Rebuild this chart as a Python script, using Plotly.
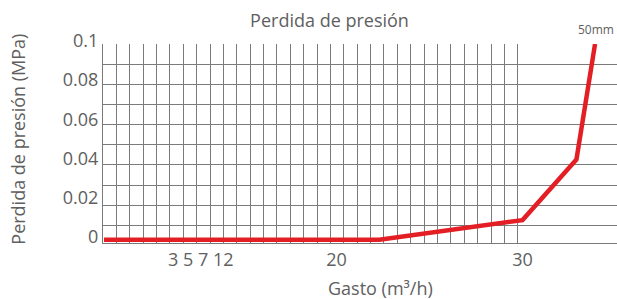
import plotly.graph_objects as go

# Data
gasto = [7.5, 22.3, 30.0, 32.9, 33.9]          # m³/h
perdida = [0.0, 0.0, 0.010, 0.041, 0.100]      # MPa
series_name = "50mm"

x_tick_vals = [12.7, 20, 30]
x_tick_text = ["3 5 7 12", "20", "30"]
y_tick_vals = [0, 0.02, 0.04, 0.06, 0.08, 0.1]
y_tick_text = ["0", "0.02", "0.04", "0.06", "0.08", "0.1"]

grid_cols = 31   # vertical grid cells
grid_rows = 10   # horizontal grid cells

W, H = 617, 299
ML, MR, MT, MB = 103, 0, 44, 56
font = "Open Sans, Noto Sans, sans-serif"
txt = "#606060"
gridc = "#7a7a7a"

fig = go.Figure()
fig.add_trace(go.Scatter(
    x=gasto, y=perdida, mode="lines", name=series_name,
    line=dict(color="#e31e24", width=4.5), showlegend=False,
))
# invisible traces carrying the grid axes
fig.add_trace(go.Scatter(x=[None], y=[None], xaxis="x2", yaxis="y",
                         showlegend=False, hoverinfo="skip"))
fig.add_trace(go.Scatter(x=[None], y=[None], xaxis="x", yaxis="y2",
                         showlegend=False, hoverinfo="skip"))

fig.update_layout(
    width=W, height=H,
    margin=dict(l=ML, r=MR, t=MT, b=MB),
    paper_bgcolor="white", plot_bgcolor="white",
    font=dict(family=font, size=18, color=txt),
    title=dict(text="Perdida de presión", x=329.5 / W, xanchor="center",
               xref="container", y=1 - 21 / H, yanchor="middle",
               font=dict(size=18, color=txt)),
    xaxis=dict(range=[7.445, 35.08], tickvals=x_tick_vals, ticktext=x_tick_text,
               showgrid=False, zeroline=False, showline=True, linecolor=gridc,
               linewidth=1, ticks="", tickfont=dict(size=18, color=txt)),
    yaxis=dict(range=[-0.0017, 0.1], tickvals=y_tick_vals, ticktext=y_tick_text,
               showgrid=False, zeroline=False, showline=True, linecolor=gridc,
               linewidth=1, ticks="", ticklabelshift=-3,
               tickfont=dict(size=18, color=txt)),
    xaxis2=dict(overlaying="x", range=[0, (W - ML - MR) / 13.38],
                tickvals=list(range(grid_cols + 1)), showticklabels=False,
                showgrid=True, gridcolor=gridc, gridwidth=1, zeroline=False,
                ticks="", showline=False),
    yaxis2=dict(overlaying="y", range=[0.13, grid_rows],
                tickvals=list(range(1, grid_rows + 1)), showticklabels=False,
                showgrid=True, gridcolor=gridc, gridwidth=1, zeroline=False,
                ticks="", showline=False),
    annotations=[
        dict(text="Perdida de presión (MPa)", textangle=-90, xref="paper", yref="paper",
             x=(18 - ML) / (W - ML - MR), y=(243.3 - 140) / (H - MT - MB),
             showarrow=False, xanchor="center", yanchor="middle",
             font=dict(size=18, color=txt)),
        dict(text="Gasto (m³/h)", xref="paper", yref="paper",
             x=(380 - ML) / (W - ML - MR), y=(243.3 - 288) / (H - MT - MB),
             showarrow=False, xanchor="center", yanchor="middle",
             font=dict(size=18, color=txt)),
        dict(text=series_name, xref="paper", yref="paper",
             x=(596 - ML) / (W - ML - MR), y=(243.3 - 30) / (H - MT - MB),
             showarrow=False, xanchor="center", yanchor="middle",
             font=dict(size=12, color=txt)),
    ],
)

fig.write_html("out.html", config={"displayModeBar": False},
               post_script="document.body.style.margin='0';")
